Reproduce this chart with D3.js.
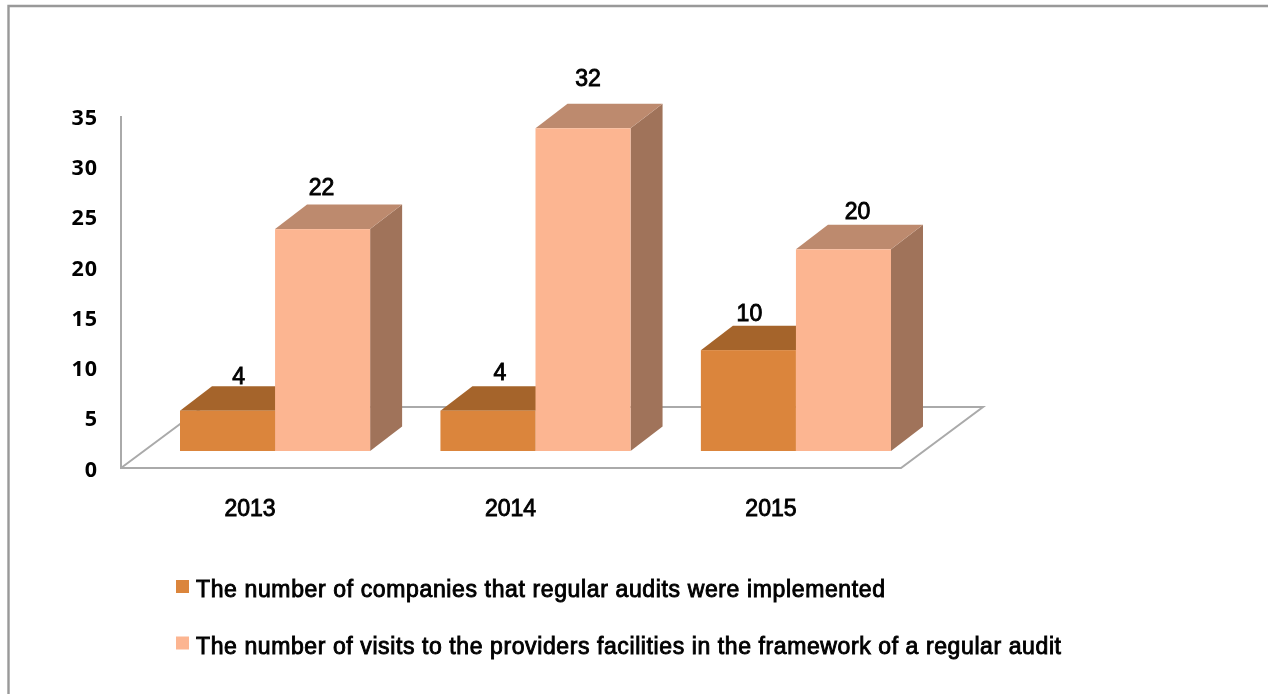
<!DOCTYPE html>
<html>
<head>
<meta charset="utf-8">
<script src="https://cdn.jsdelivr.net/npm/d3@7"></script>
<style>
  html, body { margin: 0; padding: 0; background: #fff; }
  svg { display: block; filter: blur(0.4px); }
  text { font-family: "Liberation Sans", Arial, sans-serif; fill: #000; }
  .tick-label { font-family: "Open Sans", sans-serif; font-weight: bold; letter-spacing: 1px; }
</style>
</head>
<body>
<div id="container"></div>
<script>
// data
const years = ['2013', '2014', '2015'];
const companies = [4, 4, 10];
const visits = [22, 32, 20];
const yTicks = [0, 5, 10, 15, 20, 25, 30, 35];
const legendLabels = [
  'The number of companies that regular audits were implemented',
  'The number of visits to the providers facilities in the framework of a regular audit'
];

const width = 1268, height = 694;

const svg = d3.select('#container').append('svg')
  .attr('width', width)
  .attr('height', height);

// frame
svg.append('path')
  .attr('d', `M8.5,${height}V6H${width}`)
  .attr('fill', 'none')
  .attr('stroke', '#999')
  .attr('stroke-width', 2.4);

// scales: axis sits on the front floor edge, bars stand further back on the floor
const yAxisScale = d3.scaleLinear().domain([0, 35]).range([468, 116]);
const barBase = 451;
const y = d3.scaleLinear().domain([0, 35]).range([barBase, barBase - 353]);
const x = d3.scaleBand().domain(years).range([180, 891]).paddingInner(0.27);
const inner = d3.scaleBand().domain([0, 1]).range([0, x.bandwidth()]);

// depth of the 3d projection
const depthX = 32, depthY = 24.5;
const floorX = 82, floorY = 61;

// floor and wall lines
const floor = d3.line();
svg.append('path')
  .attr('d', floor([[121, 116], [121, 468], [901, 468], [901 + floorX, 468 - floorY], [121 + floorX, 468 - floorY], [121, 468]]))
  .attr('fill', 'none')
  .attr('stroke', '#aaa')
  .attr('stroke-width', 2);

// y tick labels
svg.append('g').selectAll('text')
  .data(yTicks)
  .enter().append('text')
    .attr('class', 'tick-label')
    .attr('x', 98)
    .attr('y', d => yAxisScale(d) + 1)
    .attr('dy', '0.36em')
    .attr('text-anchor', 'end')
    .attr('font-size', 21.5)
    .text(d => d);

// bars
const series = [
  { values: companies, front: '#db853c', top: '#a5642b', side: '#a5642b', index: 0 },
  { values: visits, front: '#fcb591', top: '#bd8a6e', side: '#a0735a', index: 1 }
];

// extra shift of each value label, as placed in the source chart
const labelShift = [[[11, -35], [-1, -42]], [[12, -39], [5, -51]], [[1, -37], [14, -39]]];

years.forEach((year, i) => {
  series.forEach(s => {
    const v = s.values[i];
    const x0 = x(year) + inner(s.index);
    const x1 = x0 + inner.bandwidth();
    const top = y(v);
    const g = svg.append('g');
    g.append('path')
      .attr('d', floor([[x1, barBase], [x1 + depthX, barBase - depthY], [x1 + depthX, top - depthY], [x1, top]]) + 'Z')
      .attr('fill', s.side);
    g.append('path')
      .attr('d', floor([[x0, top], [x0 + depthX, top - depthY], [x1 + depthX, top - depthY], [x1, top]]) + 'Z')
      .attr('fill', s.top);
    g.append('rect')
      .attr('x', x0)
      .attr('y', top)
      .attr('width', x1 - x0)
      .attr('height', barBase - top)
      .attr('fill', s.front);
    g.append('text')
      .attr('x', (x0 + x1) / 2 + labelShift[i][s.index][0])
      .attr('y', top + labelShift[i][s.index][1])
      .attr('dy', '0.36em')
      .attr('text-anchor', 'middle')
      .attr('font-size', 23)
      .attr('stroke', '#000')
      .attr('stroke-width', 0.9)
      .text(v);
  });
});

// year labels
svg.append('g').selectAll('text')
  .data(years)
  .enter().append('text')
    .attr('x', d => x(d) + x.bandwidth() / 2 - 25)
    .attr('y', 508)
    .attr('dy', '0.36em')
    .attr('text-anchor', 'middle')
    .attr('font-size', 23)
    .attr('stroke', '#000')
    .attr('stroke-width', 0.9)
    .text(d => d);

// legend
const legend = svg.append('g');
legendLabels.forEach((label, i) => {
  const ly = 589 + i * 56.5;
  legend.append('rect')
    .attr('x', 176)
    .attr('y', ly - 9)
    .attr('width', 13)
    .attr('height', 13)
    .attr('fill', series[i].front);
  legend.append('text')
    .attr('x', 196)
    .attr('y', ly)
    .attr('dy', '0.36em')
    .attr('font-size', 23)
    .attr('stroke', '#000')
    .attr('stroke-width', 0.9)
    .attr('textLength', i === 0 ? 689 : 865)
    .text(label);
});
</script>
</body>
</html>
